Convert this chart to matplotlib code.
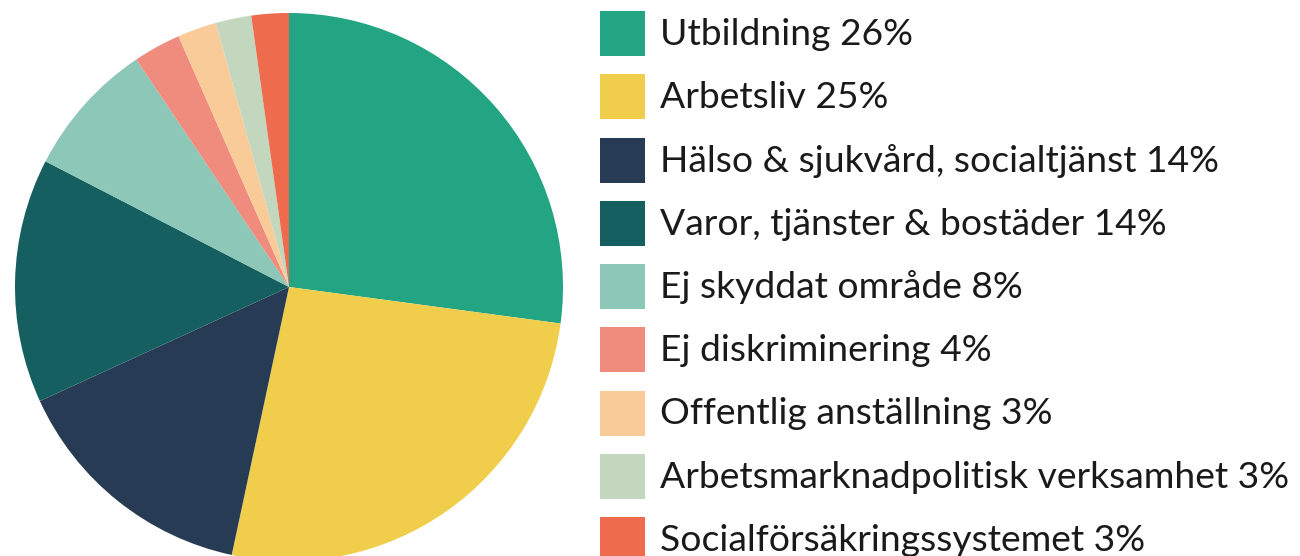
import matplotlib.pyplot as plt
from matplotlib.patches import Rectangle

# categories, legend percentages and slice sizes (slices)
categories = ["Utbildning", "Arbetsliv", "Hälso & sjukvård, socialtjänst",
              "Varor, tjänster & bostäder", "Ej skyddat område", "Ej diskriminering",
              "Offentlig anställning", "Arbetsmarknadpolitisk verksamhet",
              "Socialförsäkringssystemet"]
label_pct = [26, 25, 14, 14, 8, 4, 3, 3, 3]
slice_sizes = [27.1, 26.2, 14.8, 14.4, 8.0, 2.8, 2.3, 2.1, 2.2]
colors = ["#23A483", "#F0CE4B", "#273C54", "#155F60", "#8CC7B8",
          "#F08C7E", "#F9CB98", "#C3D7BE", "#EE6B4D"]

plt.rcParams['font.family'] = ['Lato', 'DejaVu Sans']

fig = plt.figure(figsize=(13, 5.56), dpi=100)
ax = fig.add_axes([0, 0, 1, 1])

# pie in pixel coordinates, starting at 12 o'clock and going clockwise
ax.pie(slice_sizes, colors=colors, startangle=90, counterclock=False,
       center=(289, 269), radius=274, frame=True)
ax.set_xlim(0, 1300)
ax.set_ylim(0, 556)
ax.set_aspect('equal')
ax.axis('off')

# legend drawn by hand
row_h = 63.25
for i, (cat, val) in enumerate(zip(categories, label_pct)):
    yc = 556 - 33.5 - i * row_h
    ax.add_patch(Rectangle((600, yc - 22.5), 45, 45, color=colors[i], lw=0))
    ax.text(660, yc - 11.5, f"{cat} {val}%", fontsize=26.8, va='baseline',
            ha='left', color='#1a1a1a')

fig.savefig("out.png", dpi=100)
